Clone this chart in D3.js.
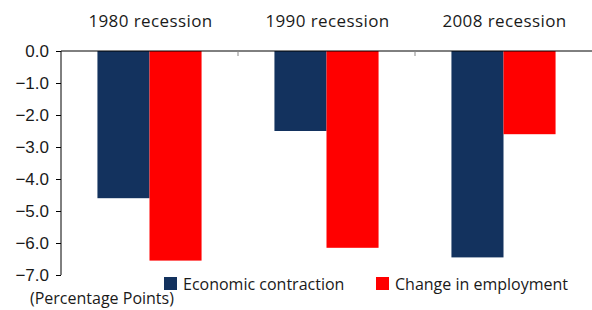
<!DOCTYPE html>
<html>
<head>
  <meta charset="utf-8">
  <title>Recessions</title>
  <script src="https://cdn.jsdelivr.net/npm/d3@7"></script>
  <style>
    body { margin: 0; background: #fff; }
    svg { display: block; font-family: "Open Sans", sans-serif; }
    text { fill: #1a1a1a; }
  </style>
</head>
<body>
<script>
  var categories = ['1980 recession', '1990 recession', '2008 recession'];
  var seriesNames = ['Economic contraction', 'Change in employment'];
  var contraction = [-4.6, -2.5, -6.45];
  var employment = [-6.55, -6.15, -2.6];
  var yTicks = [0, -1, -2, -3, -4, -5, -6, -7];
  var colors = ['#13325e', '#ff0000'];

  var W = 592, H = 310;
  var svg = d3.select('body').append('svg').attr('width', W).attr('height', H);

  var x = d3.scaleBand().domain(categories).range([61, 592]);
  var inner = d3.scaleBand().domain(seriesNames).range([0, x.bandwidth()]).paddingInner(0).paddingOuter(0.7);
  var y = d3.scaleLinear().domain([0, -7]).range([51, 275]);

  // bars
  var rows = categories.map(function (c, i) { return { cat: c, vals: [contraction[i], employment[i]] }; });
  svg.append('g').selectAll('g').data(rows).join('g')
    .attr('transform', function (d) { return 'translate(' + x(d.cat) + ',0)'; })
    .selectAll('rect').data(function (d) { return d.vals; }).join('rect')
    .attr('x', function (d, i) { return inner(seriesNames[i]); })
    .attr('width', inner.bandwidth())
    .attr('y', y(0))
    .attr('height', function (d) { return y(d) - y(0); })
    .attr('fill', function (d, i) { return colors[i]; });

  // y axis
  var ya = svg.append('g').attr('transform', 'translate(61,0)')
    .call(d3.axisLeft(y).tickValues(yTicks).tickFormat(d3.format('.1f')).tickSize(5).tickPadding(7));
  ya.selectAll('text').style('font-size', '17px').attr('fill', '#1a1a1a');
  ya.select('.domain').attr('d', 'M0,' + y(0) + 'V' + y(-7));

  // x axis line at zero + category ticks
  var xa = svg.append('g').attr('transform', 'translate(0,' + y(0) + ')');
  xa.append('line').attr('x1', 61).attr('x2', 592).attr('stroke', '#000');
  xa.selectAll('line.sep').data(categories.slice(1)).join('line')
    .attr('class', 'sep')
    .attr('x1', function (d) { return x(d); }).attr('x2', function (d) { return x(d); })
    .attr('y1', 0).attr('y2', 5).attr('stroke', '#888');

  // category labels on top
  svg.append('g').selectAll('text').data(categories).join('text')
    .attr('x', function (d) { return x(d) + x.bandwidth() / 2 + 1; })
    .attr('y', 27)
    .attr('text-anchor', 'middle')
    .style('font-size', '17px')
    .style('letter-spacing', '0.4px')
    .text(function (d) { return d; });

  // legend
  var lg = svg.append('g');
  var lx = [164, 376];
  seriesNames.forEach(function (s, i) {
    lg.append('rect').attr('x', lx[i]).attr('y', 277).attr('width', 13).attr('height', 13).attr('fill', colors[i]);
    lg.append('text').attr('x', lx[i] + 19).attr('y', 290).style('font-size', '16px').text(s);
  });

  svg.append('text').attr('x', 30).attr('y', 304).style('font-size', '16px').text('(Percentage Points)');
</script>
</body>
</html>
